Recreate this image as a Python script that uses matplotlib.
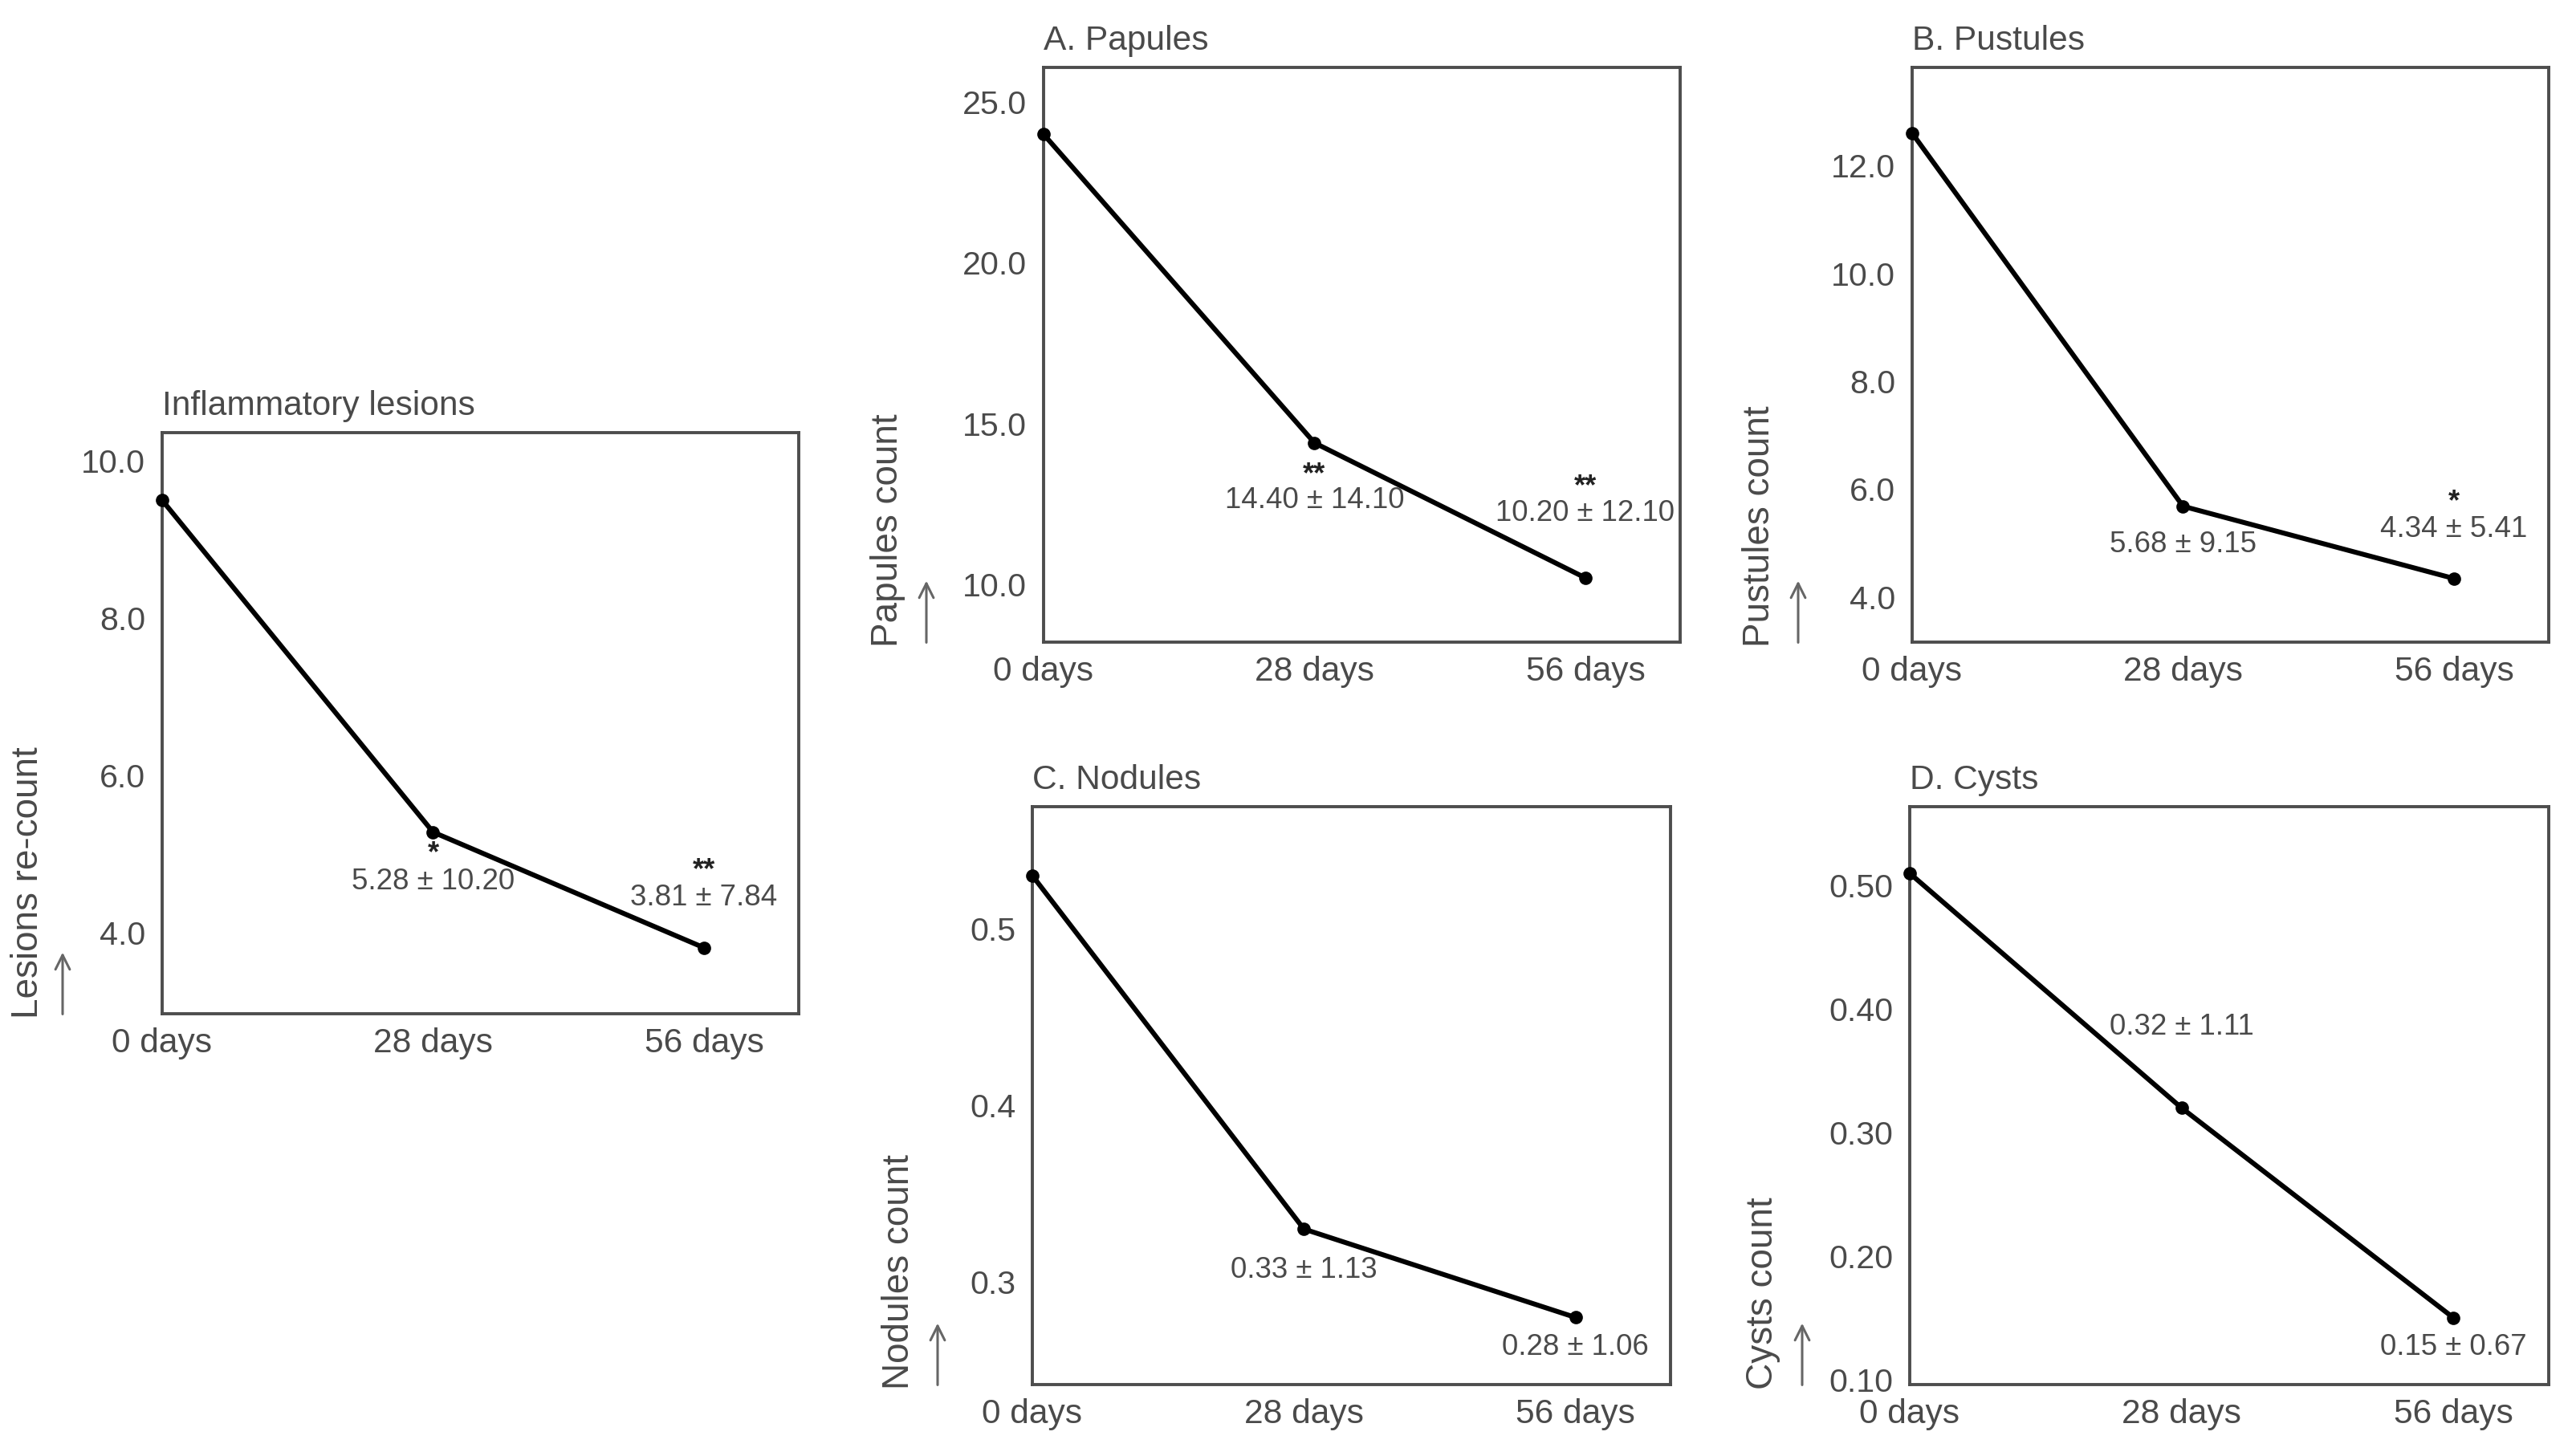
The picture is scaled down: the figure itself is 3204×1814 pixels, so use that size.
import matplotlib
matplotlib.use('Agg')
import matplotlib.pyplot as plt
from matplotlib.patches import FancyArrowPatch

plt.rcParams['font.family'] = ['Liberation Sans', 'DejaVu Sans']

W, H, DPI = 3205, 1814, 200

days = ['0 days', '28 days', '56 days']

lesions = [9.50, 5.28, 3.81]
papules = [24.0, 14.40, 10.20]
pustules = [12.60, 5.68, 4.34]
nodules = [0.53, 0.33, 0.28]
cysts = [0.51, 0.32, 0.15]

lesions_sd = ['5.28 ± 10.20', '3.81 ± 7.84']
papules_sd = ['14.40 ± 14.10', '10.20 ± 12.10']
pustules_sd = ['5.68 ± 9.15', '4.34 ± 5.41']
nodules_sd = ['0.33 ± 1.13', '0.28 ± 1.06']
cysts_sd = ['0.32 ± 1.11', '0.15 ± 0.67']

lesions_sig = ['*', '**']
papules_sig = ['**', '**']
pustules_sig = ['', '*']
nodules_sig = ['', '']
cysts_sig = ['', '']

lesions_ticks = [4.0, 6.0, 8.0, 10.0]
papules_ticks = [10.0, 15.0, 20.0, 25.0]
pustules_ticks = [4.0, 6.0, 8.0, 10.0, 12.0]
nodules_ticks = [0.3, 0.4, 0.5]
cysts_ticks = [0.10, 0.20, 0.30, 0.40, 0.50]

TXT = '#4a4a4a'
SPINE = '#4d4d4d'


def px_box(left, right, top, bottom):
    return [left / W, 1 - bottom / H, (right - left) / W, (bottom - top) / H]


def panel(fig, box, values, ticks, fmt, ylim, title, ylabel, sds, sigs,
          offsets, label_x, arrow_x):
    left, right, top, bottom = box
    ax = fig.add_axes(px_box(left, right, top, bottom))
    x = list(range(len(values)))
    ax.plot(x, values, color='black', lw=2.2, marker='o', ms=5,
            clip_on=False, zorder=3)
    ax.set_xlim(0, 2.35)
    ax.set_ylim(*ylim)
    ax.set_xticks(x)
    ax.set_xticklabels(days)
    ax.set_yticks(ticks)
    ax.set_yticklabels([fmt % t for t in ticks])
    ax.tick_params(length=0, colors=TXT, labelsize=14.8)
    ax.tick_params(axis='x', pad=6, labelsize=15.3)
    ax.tick_params(axis='y', pad=7.5)
    for s in ax.spines.values():
        s.set_color(SPINE)
        s.set_linewidth(1.4)
    ax.set_title(title, loc='left', pad=8, fontsize=15.3, color=TXT)

    # mean +/- sd labels and significance stars at 28 and 56 days
    for i, (sd, sig, (dy_lab, dy_sig)) in enumerate(zip(sds, sigs, offsets)):
        xi = i + 1
        ax.annotate(sd, (xi, values[xi]), xytext=(0, dy_lab),
                    textcoords='offset pixels', ha='center', va='center',
                    fontsize=13.2, color=TXT)
        if sig:
            ax.annotate(sig, (xi, values[xi]), xytext=(0, dy_sig),
                        textcoords='offset pixels', ha='center',
                        va='center', fontsize=13, color='#222222',
                        fontweight='bold')

    fig.text(label_x / W, 1 - (bottom + 6) / H, ylabel, rotation=90,
             ha='center', va='bottom', fontsize=16.5, color=TXT)
    arrow = FancyArrowPatch((arrow_x / W, 1 - (bottom + 6) / H),
                            (arrow_x / W, 1 - (bottom - 82) / H),
                            transform=fig.transFigure, arrowstyle='->',
                            mutation_scale=16, lw=1.1, color='#666666')
    fig.add_artist(arrow)
    return ax


fig = plt.figure(figsize=(W / DPI, H / DPI), dpi=DPI)

panel(fig, (202, 995, 539, 1263), lesions, lesions_ticks, '%.1f',
      (2.97, 10.36), 'Inflammatory lesions', 'Lesions re-count',
      lesions_sd, lesions_sig, [(-62, -27), (62, 96)], 35, 78)

panel(fig, (1300, 2093, 84, 800), papules, papules_ticks, '%.1f',
      (8.2, 26.08), 'A. Papules', 'Papules count',
      papules_sd, papules_sig, [(-72, -40), (80, 113)], 1106, 1154)

panel(fig, (2382, 3175, 84, 800), pustules, pustules_ticks, '%.1f',
      (3.16, 13.82), 'B. Pustules', 'Pustules count',
      pustules_sd, pustules_sig, [(-48, 0), (61, 95)], 2192, 2240)

panel(fig, (1286, 2081, 1005, 1725), nodules, nodules_ticks, '%.1f',
      (0.242, 0.569), 'C. Nodules', 'Nodules count',
      nodules_sd, nodules_sig, [(-51, 0), (-37, 0)], 1120, 1168)

panel(fig, (2379, 3175, 1005, 1725), cysts, cysts_ticks, '%.2f',
      (0.096, 0.564), 'D. Cysts', 'Cysts count',
      cysts_sd, cysts_sig, [(101, 0), (-37, 0)], 2196, 2245)

fig.savefig('out.png', dpi=DPI, facecolor='white')
